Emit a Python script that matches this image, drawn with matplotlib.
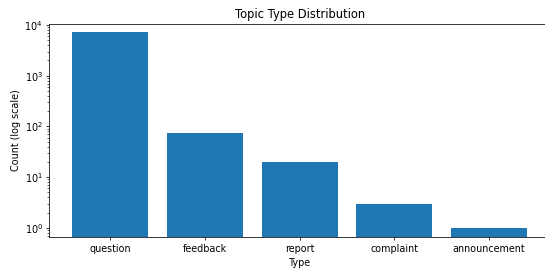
import matplotlib
matplotlib.use("Agg")
import matplotlib.pyplot as plt

# counts per topic type
types = ["question", "feedback", "report", "complaint", "announcement"]
counts = [7200, 75, 20, 3, 1]

dpi = 69
fig = plt.figure(figsize=(545 / dpi, 269 / dpi), dpi=dpi)
ax = fig.add_axes([0.0908, 0.118, 0.918, 0.793])

ax.bar(types, counts, color="#1f77b4")
ax.set_yscale("log")
ax.set_ylim(0.65, 10500)
ax.set_title("Topic Type Distribution")
ax.set_xlabel("Type")
ax.set_ylabel("Count (log scale)")

fig.savefig("out.png", dpi=dpi)
